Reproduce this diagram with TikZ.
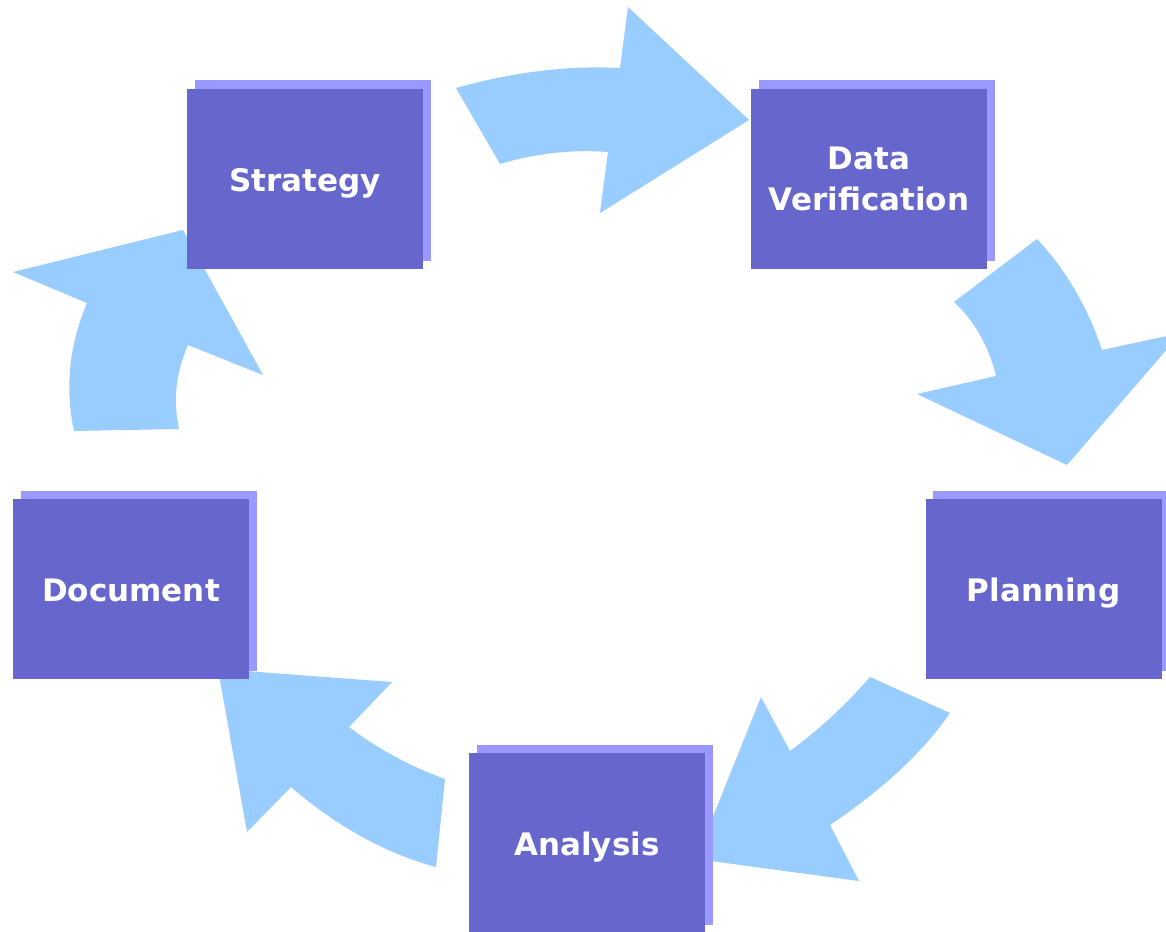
\documentclass[tikz,border=0pt]{standalone}
\usepackage{fontspec}
\newfontfamily\boxfont{DejaVu Sans}
\usetikzlibrary{shadows}
\definecolor{arrowcol}{HTML}{99CCFF}
\definecolor{frontcol}{HTML}{6666CC}
\definecolor{shadowcol}{HTML}{9999FF}
\begin{document}
\begin{tikzpicture}[x=1pt,y=-1pt,
  blockarrow/.style={fill=arrowcol,draw=none},
  stagebox/.style={fill=frontcol,draw=none,inner sep=0pt,
    minimum width=236pt,minimum height=180pt,
    text=white,align=center,
    font=\boxfont\bfseries\fontsize{31}{41}\selectfont,
    general shadow={fill=shadowcol,draw=none,shadow xshift=7.5pt,shadow yshift=8.5pt}},
  oneline/.style={text height=24pt,text depth=0pt}]
\useasboundingbox (0,0) rectangle (1166,931);
\clip (0,0) rectangle (1166,931);
\fill[white] (0,0) rectangle (1166,931);
% curved block arrows
\path[blockarrow] (456,88) -- (500,164)
  .. controls (536,153.3) and (572,149.3) .. (608,152)
  -- (600,213) -- (749,120) -- (628,7) -- (620,68)
  .. controls (568,65.3) and (513.3,72) .. (456,88) -- cycle;
\path[blockarrow] (1037,239) -- (954,302)
  .. controls (974.7,321.3) and (988.7,346) .. (996,376)
  -- (917,394) -- (1067,465) -- (1181,333) -- (1102,350)
  .. controls (1087.7,307) and (1066,270) .. (1037,239) -- cycle;
\path[blockarrow] (950,713) -- (870,677)
  .. controls (845.5,705.2) and (818.9,729.9) .. (790,751)
  -- (761,697) -- (696,859) -- (859,881) -- (830,825)
  .. controls (883.3,789) and (923.3,751.7) .. (950,713) -- cycle;
\path[blockarrow] (436,867) -- (445,779)
  .. controls (410.3,766.5) and (378.3,749.2) .. (349,727)
  -- (392,682) -- (218,669) -- (247,832) -- (291,787)
  .. controls (336.9,826.5) and (385.2,853.2) .. (436,867) -- cycle;
\path[blockarrow] (74,431) -- (179,429)
  .. controls (172.9,400.5) and (175.9,372.5) .. (188,345)
  -- (263,375) -- (183,230) -- (13,272) -- (87,303)
  .. controls (69.1,345.2) and (64.8,387.9) .. (74,431) -- cycle;
% boxes
\node[stagebox,oneline] (strategy) at (305,179) {Strategy};
\node[stagebox] (dataver) at (869,179) {Data\\Verification};
\node[stagebox,oneline] (planning) at (1043.5,589) {Planning};
\node[stagebox,oneline] (analysis) at (587,843) {Analysis};
\node[stagebox,oneline] (document) at (131,589) {Document};
\end{tikzpicture}
\end{document}
